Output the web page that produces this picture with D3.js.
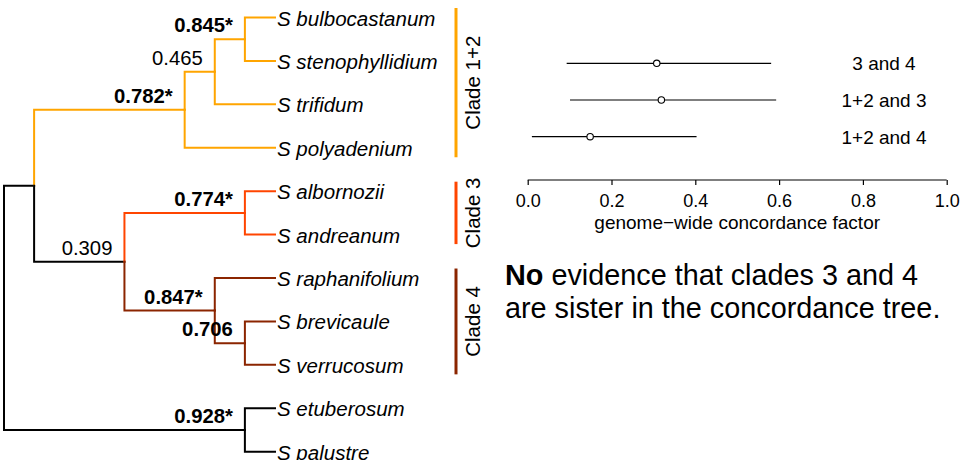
<!DOCTYPE html>
<html lang="en">
<head>
    <meta charset="UTF-8">
    <title>Concordance tree</title>
    <script src="https://d3js.org/d3.v7.min.js"></script>
    <style>
        body { margin: 0; background: #fff; }
        svg text { font-family: "Liberation Sans", Arial, Helvetica, sans-serif; fill: #000; }
    </style>
</head>
<body>
    <svg id="chart" width="962" height="460"></svg>

    <script>
        // tip order (top to bottom)
        const taxa = ["bulbocastanum", "stenophyllidium", "trifidum", "polyadenium", "albornozii",
            "andreanum", "raphanifolium", "brevicaule", "verrucosum", "etuberosum", "palustre"];

        // edges: child, parent, branch length, clade
        const edges = [
            ["root", null, 0, "none"],
            ["A", "root", 1, "none"],
            ["c12", "A", 5, "c12"],
            ["n465", "c12", 1, "c12"],
            ["n845", "n465", 1, "c12"],
            ["bulbocastanum", "n845", 1, "c12"],
            ["stenophyllidium", "n845", 1, "c12"],
            ["trifidum", "n465", 2, "c12"],
            ["polyadenium", "c12", 3, "c12"],
            ["n309", "A", 3, "none"],
            ["c3", "n309", 4, "c3"],
            ["albornozii", "c3", 1, "c3"],
            ["andreanum", "c3", 1, "c3"],
            ["c4", "n309", 3, "c4"],
            ["raphanifolium", "c4", 2, "c4"],
            ["n706", "c4", 1, "c4"],
            ["brevicaule", "n706", 1, "c4"],
            ["verrucosum", "n706", 1, "c4"],
            ["out", "root", 8, "none"],
            ["etuberosum", "out", 1, "none"],
            ["palustre", "out", 1, "none"]
        ];

        // node support values: node, label, bold
        const supports = [
            ["n845", "0.845*", true],
            ["n465", "0.465", false],
            ["c12", "0.782*", true],
            ["c3", "0.774*", true],
            ["n309", "0.309", false],
            ["c4", "0.847*", true],
            ["n706", "0.706", true],
            ["out", "0.928*", true]
        ];

        // clade bars
        const clades = [
            { id: "c12", label: "Clade 1+2", first: "bulbocastanum", last: "polyadenium" },
            { id: "c3", label: "Clade 3", first: "albornozii", last: "andreanum" },
            { id: "c4", label: "Clade 4", first: "raphanifolium", last: "verrucosum" }
        ];
        const cladeColor = { none: "#000000", c12: "#FFA500", c3: "#FF4500", c4: "#8B2500" };

        // concordance factor intervals
        const pairs = ["3 and 4", "1+2 and 3", "1+2 and 4"];
        const cfMean = [0.308, 0.319, 0.149];
        const cfLow = [0.093, 0.101, 0.010];
        const cfHigh = [0.581, 0.593, 0.403];
        const cfTicks = [0, 0.2, 0.4, 0.6, 0.8, 1.0];

        const svg = d3.select("#chart");

        // ---- tree ----
        const root = d3.stratify()
            .id(d => d[0])
            .parentId(d => d[1])(edges);

        const x = d3.scaleLinear().domain([0, 9]).range([4, 275]);
        const y = d3.scalePoint().domain(taxa).range([17.5, 451.7]);

        root.eachBefore(n => {
            n.dist = (n.parent ? n.parent.dist : 0) + n.data[2];
        });
        // node height = mean of its children
        root.eachAfter(n => {
            if (n.children) {
                n.py = d3.mean(n.children, c => c.py);
            } else {
                n.py = y(n.id);
            }
        });

        const tree = svg.append("g");
        tree.selectAll("path.edge")
            .data(root.descendants().filter(n => n.parent))
            .join("path")
            .attr("class", "edge")
            .attr("fill", "none")
            .attr("stroke", n => cladeColor[n.data[3]])
            .attr("stroke-width", 2)
            .attr("stroke-linecap", "square")
            .attr("d", n => `M${x(n.parent.dist)},${n.parent.py}V${n.py}H${x(n.dist)}`);

        tree.selectAll("text.tip")
            .data(root.leaves())
            .join("text")
            .attr("class", "tip")
            .attr("x", n => x(n.dist) + 2)
            .attr("y", n => n.py + 8)
            .attr("font-size", 20.5)
            .attr("font-style", "italic")
            .text(n => "S " + n.id);

        const byId = new Map(root.descendants().map(n => [n.id, n]));
        tree.selectAll("text.support")
            .data(supports)
            .join("text")
            .attr("class", "support")
            .attr("x", d => x(byId.get(d[0]).dist) - 12)
            .attr("y", d => byId.get(d[0]).py - 7)
            .attr("text-anchor", "end")
            .attr("font-size", 20.3)
            .attr("font-weight", d => d[2] ? "bold" : "normal")
            .text(d => d[1]);

        // clade bars
        const bars = svg.append("g");
        bars.selectAll("line")
            .data(clades)
            .join("line")
            .attr("x1", 456).attr("x2", 456)
            .attr("y1", d => y(d.first) - 9.5)
            .attr("y2", d => y(d.last) + 9.5)
            .attr("stroke", d => cladeColor[d.id])
            .attr("stroke-width", 3);
        bars.selectAll("text")
            .data(clades)
            .join("text")
            .attr("transform", d => `translate(480,${(y(d.first) + y(d.last)) / 2}) rotate(-90)`)
            .attr("text-anchor", "middle")
            .attr("font-size", 20.5)
            .text(d => d.label);

        // ---- concordance factor plot ----
        const cx = d3.scaleLinear().domain([0, 1]).range([527.7, 946.7]);
        const cy = d3.scalePoint().domain(pairs).range([63.3, 136.7]);

        const cf = svg.append("g");
        cf.selectAll("line.ci")
            .data(pairs)
            .join("line")
            .attr("class", "ci")
            .attr("x1", (d, i) => cx(cfLow[i]))
            .attr("x2", (d, i) => cx(cfHigh[i]))
            .attr("y1", d => cy(d)).attr("y2", d => cy(d))
            .attr("stroke", "#000")
            .attr("stroke-width", 1.2);
        cf.selectAll("circle")
            .data(pairs)
            .join("circle")
            .attr("cx", (d, i) => cx(cfMean[i]))
            .attr("cy", d => cy(d))
            .attr("r", 3.2)
            .attr("fill", "#fff")
            .attr("stroke", "#000")
            .attr("stroke-width", 1.1);
        cf.selectAll("text.pair")
            .data(pairs)
            .join("text")
            .attr("class", "pair")
            .attr("x", 884)
            .attr("y", d => cy(d) + 7)
            .attr("text-anchor", "middle")
            .attr("font-size", 19)
            .text(d => d);

        const axis = cf.append("g")
            .attr("transform", "translate(0,180)")
            .call(d3.axisBottom(cx).tickValues(cfTicks).tickFormat(d3.format(".1f")).tickSize(5).tickPadding(9));
        axis.select(".domain").attr("stroke", "#000").attr("stroke-width", 1.2)
            .attr("d", `M${cx(0)},0H${cx(1)}`);
        axis.selectAll(".tick line").attr("stroke-width", 1.2);
        axis.selectAll(".tick text")
            .attr("font-size", 18)
            .attr("font-family", null);

        cf.append("text")
            .attr("x", (cx(0) + cx(1)) / 2)
            .attr("y", 228.5)
            .attr("text-anchor", "middle")
            .attr("font-size", 19)
            .text("genome\u2212wide concordance factor");

        // ---- note ----
        const note = svg.append("text")
            .attr("x", 505)
            .attr("y", 285)
            .attr("font-size", 28.8);
        note.append("tspan").attr("font-weight", "bold").text("No");
        note.append("tspan").text(" evidence that clades 3 and 4");
        svg.append("text")
            .attr("x", 505)
            .attr("y", 318)
            .attr("font-size", 28.8)
            .text("are sister in the concordance tree.");
    </script>
</body>
</html>
